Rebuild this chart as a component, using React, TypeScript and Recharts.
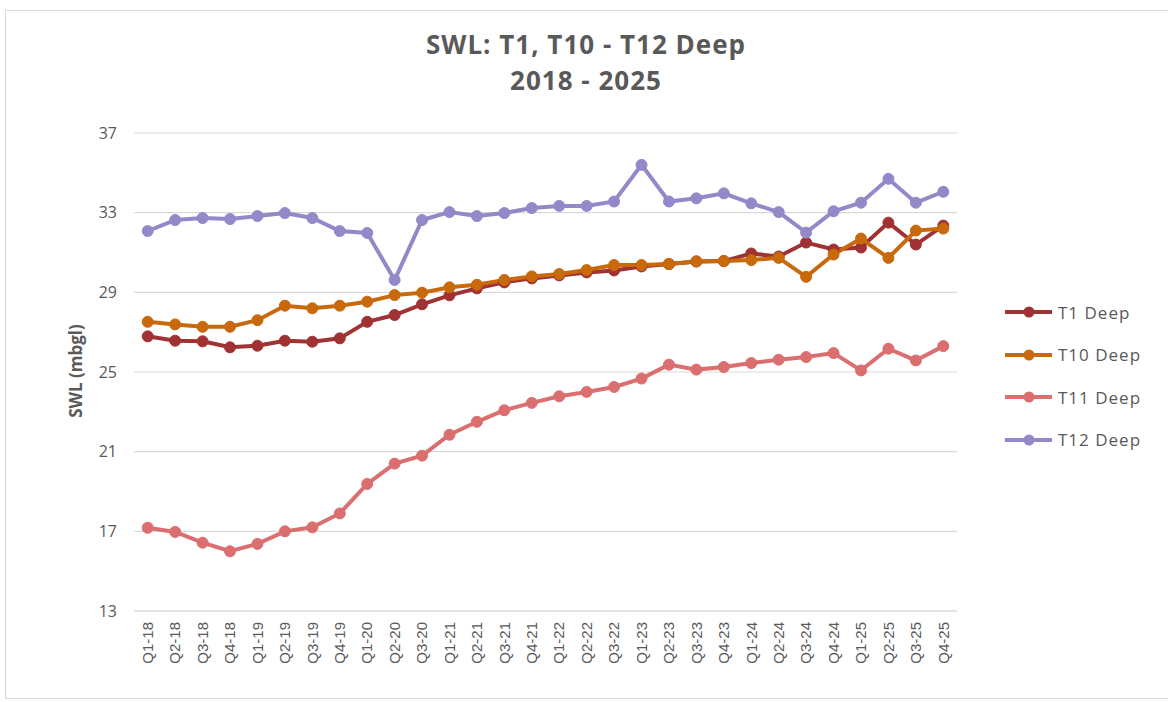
import React from 'react';
import { LineChart, Line, XAxis, YAxis, CartesianGrid, Legend } from 'recharts';

const categories = [
  'Q1-18', 'Q2-18', 'Q3-18', 'Q4-18', 'Q1-19', 'Q2-19', 'Q3-19', 'Q4-19',
  'Q1-20', 'Q2-20', 'Q3-20', 'Q1-21', 'Q2-21', 'Q3-21', 'Q4-21', 'Q1-22',
  'Q2-22', 'Q3-22', 'Q1-23', 'Q2-23', 'Q3-23', 'Q4-23', 'Q1-24', 'Q2-24',
  'Q3-24', 'Q4-24', 'Q1-25', 'Q2-25', 'Q3-25', 'Q4-25',
];

const t1Deep = [
  26.79, 26.57, 26.54, 26.24, 26.32, 26.57, 26.52, 26.69, 27.52, 27.86,
  28.4, 28.85, 29.2, 29.5, 29.7, 29.85, 30.0, 30.1, 30.3, 30.42,
  30.55, 30.57, 30.95, 30.8, 31.5, 31.15, 31.25, 32.5, 31.4, 32.35,
];

const t10Deep = [
  27.52, 27.39, 27.27, 27.27, 27.6, 28.33, 28.2, 28.33, 28.53, 28.86,
  28.98, 29.25, 29.38, 29.62, 29.8, 29.92, 30.12, 30.37, 30.37, 30.42,
  30.55, 30.57, 30.62, 30.73, 29.78, 30.9, 31.7, 30.73, 32.1, 32.2,
];

const t11Deep = [
  17.18, 16.97, 16.43, 16.0, 16.37, 17.0, 17.2, 17.9, 19.38, 20.4,
  20.8, 21.85, 22.5, 23.08, 23.45, 23.78, 24.0, 24.25, 24.67, 25.37,
  25.12, 25.25, 25.45, 25.62, 25.75, 25.95, 25.08, 26.17, 25.58, 26.3,
];

const t12Deep = [
  32.08, 32.63, 32.73, 32.68, 32.83, 32.98, 32.73, 32.08, 31.98, 29.62,
  32.63, 33.03, 32.83, 32.98, 33.23, 33.34, 33.34, 33.56, 35.4, 33.56,
  33.72, 33.97, 33.47, 33.03, 32.0, 33.07, 33.5, 34.7, 33.5, 34.05,
];

const yTicks = [13, 17, 21, 25, 29, 33, 37];
const seriesKeys = ['t1', 't10', 't11', 't12'];
const seriesNames = ['T1 Deep', 'T10 Deep', 'T11 Deep', 'T12 Deep'];
const seriesColors = ['#A13234', '#C8690C', '#DB6E6E', '#9389C9'];
const titleLines = ['SWL: T1, T10 - T12 Deep', '2018 - 2025'];
const yAxisTitle = 'SWL (mbgl)';

const data = categories.map((q, i) => ({
  q,
  t1: t1Deep[i],
  t10: t10Deep[i],
  t11: t11Deep[i],
  t12: t12Deep[i],
}));

const FONT = '"Open Sans", "Noto Sans", sans-serif';
const TEXT = '#595959';

const XTick = (props: any) => {
  const { x, y, payload } = props;
  return (
    <g transform={`translate(${x},${y + 11}) rotate(-90)`}>
      <text
        x={0}
        y={0}
        dy="0.35em"
        textAnchor="end"
        fill={TEXT}
        fontSize={15}
        fontFamily='"Liberation Sans", Arial, sans-serif'
      >
        {payload.value}
      </text>
    </g>
  );
};

const LegendContent = (props: any) => {
  const { payload } = props;
  return (
    <div style={{ fontFamily: FONT, fontSize: 17, letterSpacing: 1, color: TEXT }}>
      {(payload || []).map((p: any) => (
        <div key={p.value} style={{ display: 'flex', alignItems: 'center', height: 42.5 }}>
          <svg width={50} height={14} style={{ marginRight: 4 }}>
            <line x1={1} y1={7} x2={48} y2={7} stroke={p.color} strokeWidth={4} />
            <circle cx={25} cy={7} r={5.5} fill={p.color} />
          </svg>
          <span>{p.value}</span>
        </div>
      ))}
    </div>
  );
};

export default function App() {
  return (
    <div style={{ position: 'absolute', left: 0, top: 0, width: 1168, height: 702, background: '#fff', overflow: 'hidden' }}>
      <div
        style={{
          position: 'absolute',
          left: 5,
          top: 10,
          width: 1170,
          height: 689,
          border: '1px solid #d9d9d9',
          boxSizing: 'border-box',
        }}
      />
      <div
        style={{
          position: 'absolute',
          left: 0,
          top: 26,
          width: 1172,
          textAlign: 'center',
          fontFamily: FONT,
          fontWeight: 700,
          fontSize: 26,
          letterSpacing: 1,
          lineHeight: '36px',
          color: TEXT,
        }}
      >
        {titleLines.map((t) => (
          <div key={t}>{t}</div>
        ))}
      </div>
      <div
        style={{
          position: 'absolute',
          left: 75,
          top: 371,
          transform: 'translate(-50%, -50%) rotate(-90deg)',
          fontFamily: FONT,
          fontWeight: 700,
          fontSize: 17,
          color: TEXT,
          whiteSpace: 'nowrap',
        }}
      >
        {yAxisTitle}
      </div>
      <div style={{ position: 'absolute', left: 0, top: 0 }}>
        <LineChart
          width={1168}
          height={702}
          data={data}
          margin={{ top: 133, right: 51, bottom: 11, left: 74 }}
        >
          <CartesianGrid vertical={false} stroke="#d9d9d9" strokeWidth={1.2} />
          <XAxis
            dataKey="q"
            scale="band"
            interval={0}
            height={80}
            tickSize={0}
            tickMargin={0}
            tickLine={false}
            axisLine={{ stroke: '#d9d9d9', strokeWidth: 1.2 }}
            tick={<XTick />}
          />
          <YAxis
            domain={[13, 37]}
            ticks={yTicks}
            interval={0}
            width={60}
            axisLine={false}
            tickLine={false}
            tickSize={0}
            tickMargin={17}
            tick={{ fill: TEXT, fontSize: 16, fontFamily: FONT }}
          />
          <Legend
            layout="vertical"
            align="right"
            verticalAlign="top"
            content={<LegendContent />}
            wrapperStyle={{ position: 'absolute', left: 1004, top: 291, width: 160 }}
          />
          {seriesKeys.map((k, i) => (
            <Line
              key={k}
              type="linear"
              dataKey={k}
              name={seriesNames[i]}
              stroke={seriesColors[i]}
              strokeWidth={4}
              dot={{ r: 5.5, fill: seriesColors[i], stroke: seriesColors[i], strokeWidth: 1 }}
              activeDot={false}
              isAnimationActive={false}
            />
          ))}
        </LineChart>
      </div>
    </div>
  );
}
